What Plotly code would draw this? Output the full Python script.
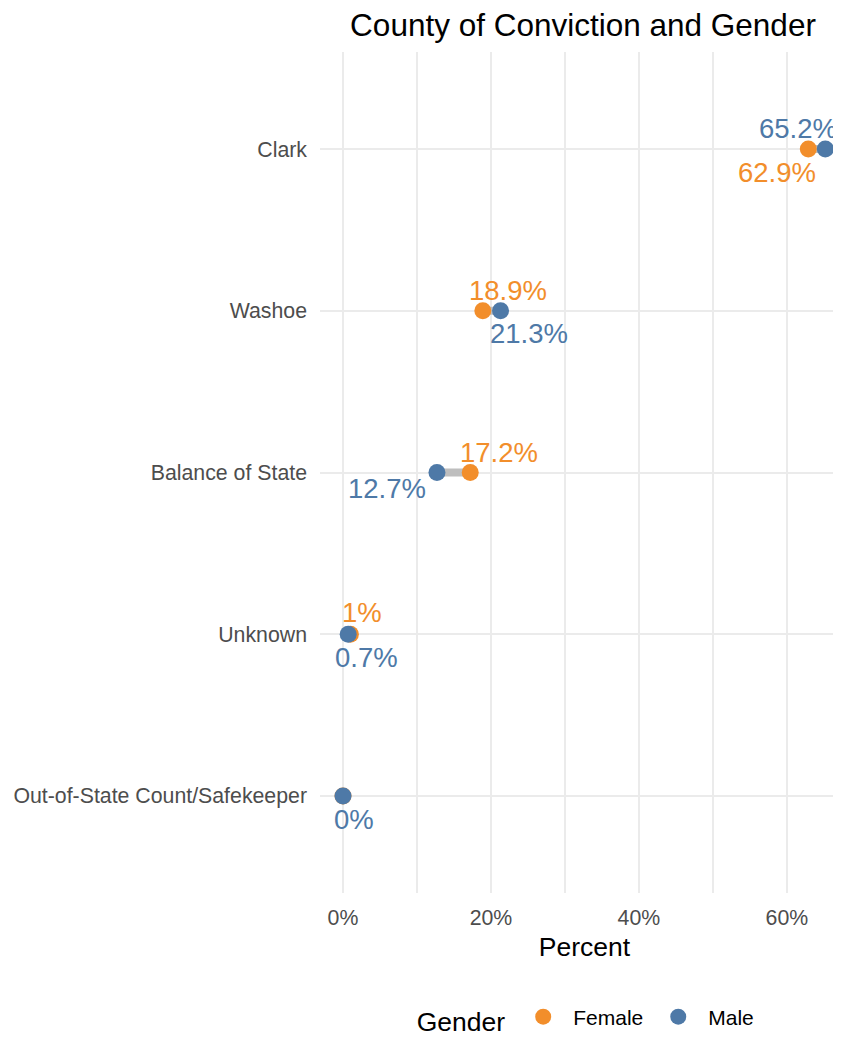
import plotly.graph_objects as go

# ---- data ----
categories = ["Clark", "Washoe", "Balance of State", "Unknown", "Out-of-State Count/Safekeeper"]
female_pct = [62.9, 18.9, 17.2, 1.0, 0.0]
male_pct = [65.2, 21.3, 12.7, 0.7, 0.0]
female_labels = ["62.9%", "18.9%", "17.2%", "1%", None]
male_labels = ["65.2%", "21.3%", "12.7%", "0.7%", "0%"]
x_ticks = [0, 20, 40, 60]
x_tick_text = ["0%", "20%", "40%", "60%"]

# ---- styles ----
FEMALE_COLOR = "#F28E2B"
MALE_COLOR = "#4E79A7"
SEG_COLOR = "#BEBEBE"
FONT = "Liberation Sans, Arial, sans-serif"
GRID = "#EBEBEB"
# label offsets in pixels (dx, dy; dy positive = up)
female_offsets = [(-31, -23), (25, 20), (29, 20), (12, 22), (0, 0)]
male_offsets = [(-27, 21), (28, -23), (-50, -16), (18, -23), (11, -24)]

fig = go.Figure()

# connecting segments
for cat, f, m in zip(categories, female_pct, male_pct):
    fig.add_trace(go.Scatter(x=[f, m], y=[cat, cat], mode="lines",
                             line=dict(color=SEG_COLOR, width=8),
                             showlegend=False, hoverinfo="skip", cliponaxis=False))

fig.add_trace(go.Scatter(x=female_pct, y=categories, mode="markers", name="Female",
                         marker=dict(color=FEMALE_COLOR, size=17), cliponaxis=False))
fig.add_trace(go.Scatter(x=male_pct, y=categories, mode="markers", name="Male",
                         marker=dict(color=MALE_COLOR, size=17), cliponaxis=False))

for cat, v, lab, (dx, dy) in zip(categories, female_pct, female_labels, female_offsets):
    if lab:
        fig.add_annotation(x=v, y=cat, text=lab, showarrow=False, xshift=dx, yshift=dy,
                           font=dict(family=FONT, size=27.5, color=FEMALE_COLOR))
for cat, v, lab, (dx, dy) in zip(categories, male_pct, male_labels, male_offsets):
    if lab:
        fig.add_annotation(x=v, y=cat, text=lab, showarrow=False, xshift=dx, yshift=dy,
                           font=dict(family=FONT, size=27.5, color=MALE_COLOR))

fig.update_layout(
    width=841, height=1037,
    margin=dict(l=312, r=0, t=44, b=152),
    paper_bgcolor="white", plot_bgcolor="white",
    font=dict(family=FONT, color="#4D4D4D"),
    title=dict(text="County of Conviction and Gender", x=575 / 841, xref="container",
               xanchor="center", y=1 - 17 / 1037, yref="container", yanchor="middle",
               font=dict(family=FONT, size=31.5, color="black")),
    showlegend=True,
    legend=dict(orientation="h", x=0.505, xanchor="center", y=-0.1498, yanchor="middle",
                title=dict(text="Gender", font=dict(family=FONT, size=26.5, color="black")),
                font=dict(family=FONT, size=21, color="black"),
                itemsizing="trace", itemwidth=50),
    xaxis=dict(range=[-3.11, 68.4], tickvals=x_ticks, ticktext=x_tick_text,
               showgrid=True, gridcolor=GRID, gridwidth=2, zeroline=False,
               showline=False, ticks="", ticklabelstandoff=10,
               tickfont=dict(family=FONT, size=21.3, color="#4D4D4D"),
               minor=dict(tickvals=[10, 30, 50], showgrid=True, gridcolor=GRID, gridwidth=1.5),
               title=dict(text="Percent", standoff=8,
                          font=dict(family=FONT, size=26.5, color="black"))),
    yaxis=dict(type="category", categoryorder="array", categoryarray=categories[::-1],
               range=[-0.6, 4.6], showgrid=True, gridcolor=GRID, gridwidth=2,
               zeroline=False, showline=False, ticks="", ticklabelstandoff=12,
               tickfont=dict(family=FONT, size=21.3, color="#4D4D4D")),
)

fig.write_html("out.html")
